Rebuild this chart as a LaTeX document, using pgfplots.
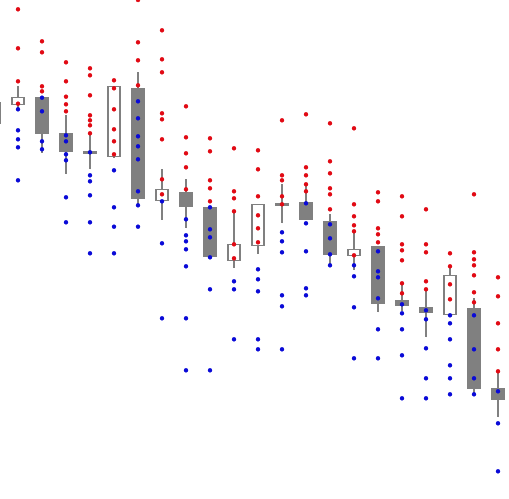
\documentclass[border=0pt]{standalone}
\usepackage{pgfplots}
\pgfplotsset{compat=1.18}
\usepackage{pgfplotstable}
\usepgfplotslibrary{statistics}
\definecolor{boxgray}{RGB}{128,128,128}
\definecolor{dotred}{RGB}{225,10,20}
\definecolor{dotblue}{RGB}{10,10,215}
\pgfplotstableread{
x y
18 9.3
18 48.3
18 81.3
18 103.7
42 41.3
42 52.3
42 86.3
42 91.3
66 62.3
66 81.3
66 96.7
66 104.3
66 111.3
90 68.3
90 75.3
90 95.3
90 115.3
90 120.3
90 125.3
90 133.3
114 80.3
114 88.3
114 109.3
114 129.3
114 141.3
114 154.3
138 0
138 42.3
138 60.3
138 85.3
162 30.3
162 59.3
162 72.3
162 113.3
162 119.3
162 139.3
162 179.3
162 194.3
186 106.3
186 137.3
186 153.3
186 167.3
186 189.3
210 138.3
210 151.3
210 180.3
210 188.3
210 201.3
234 148.3
234 191.3
234 198.3
234 211.3
234 244.3
234 258.3
258 150.3
258 169.3
258 196.3
258 215.3
258 228.3
258 242.3
282 120.3
282 175.3
282 180.3
282 196.3
282 204.3
306 114.3
306 167.3
306 175.3
306 184.3
306 191.3
330 123.3
330 161.3
330 173.3
330 188.3
330 194.3
330 209.3
354 128.3
354 204.3
354 216.3
354 225.3
354 231.3
354 255.3
378 192.3
378 201.3
378 228.3
378 234.3
378 242.3
402 196.3
402 216.3
402 244.3
402 250.3
402 260.3
402 283.3
402 293.3
426 209.3
426 244.3
426 252.3
426 281.3
426 289.3
450 253.3
450 266.3
450 284.3
450 299.3
474 194.3
474 252.3
474 259.3
474 265.3
474 275.3
474 292.3
474 302.3
498 277.3
498 296.3
498 323.3
498 349.3
498 371.3
}\reddots
\pgfplotstableread{
x y
18 109.3
18 130.3
18 139.3
18 147.3
18 180.3
42 97.7
42 111.3
42 141.3
42 149.3
66 135.3
66 141.3
66 154.3
66 160.3
66 197.3
66 222.3
90 152.3
90 175.3
90 181.3
90 195.3
90 222.3
90 253.3
114 170.3
114 207.3
114 226.7
114 253.3
138 101.3
138 118.3
138 136.3
138 146.3
138 159.3
138 191.3
138 205.3
138 226.7
162 201.3
162 243.3
162 318.3
186 219.3
186 235.3
186 241.3
186 249.3
186 266.3
186 318.3
186 370.3
210 207.3
210 229.3
210 237.3
210 257.3
210 289.3
210 370.3
234 281.3
234 289.3
234 339.3
258 269.3
258 279.3
258 291.3
258 339.3
258 349.3
282 232.3
282 241.3
282 252.3
282 295.3
282 306.3
282 349.3
306 203.3
306 223.3
306 251.3
306 288.3
306 295.3
330 224.3
330 238.3
330 254.3
330 265.3
354 265.3
354 276.3
354 307.3
354 358.3
378 251.3
378 271.3
378 277.3
378 298.3
378 329.3
378 358.3
402 304.3
402 313.3
402 329.3
402 355.3
402 398.3
426 310.3
426 319.3
426 348.3
426 378.3
426 398.3
450 315.3
450 323.3
450 339.3
450 365.3
450 378.3
450 394.3
474 315.3
474 349.3
474 378.3
474 394.3
498 391.3
498 423.3
498 471.3
}\bluedots
% #1 position, #2 whisker top, #3 box top, #4 box bottom, #5 whisker bottom, #6 fill
\newcommand{\bx}[6]{\addplot[boxplot/draw direction=y, boxplot prepared={draw position=#1, lower whisker=#2, lower quartile=#3, median=#4, upper quartile=#4, upper whisker=#5, box extend=12, whisker extend=0}, draw=boxgray, line width=1.1pt, fill=#6] coordinates {};}
\begin{document}
\begin{tikzpicture}
\begin{axis}[
  scale only axis, width=509bp, height=499bp,
  xmin=0, xmax=509, ymin=0, ymax=499, y dir=reverse,
  axis lines=none, clip=true,
]
\coordinate (sw) at (rel axis cs:0,0);
\coordinate (ne) at (rel axis cs:1,1);
\bx{-6}{102.7}{102.7}{123.3}{123.3}{white}
\bx{18}{86}{97.3}{104.3}{109}{white}
\bx{42}{97.3}{97.3}{133.7}{152.7}{boxgray}
\bx{66}{115}{134}{151.7}{174}{boxgray}
\bx{90}{133}{151.7}{153.7}{169.3}{boxgray}
\bx{114}{86.3}{86.3}{156.3}{158}{white}
\bx{138}{72.3}{88.3}{198.3}{205.3}{boxgray}
\bx{162}{169.3}{189.3}{200.3}{220.3}{white}
\bx{186}{179.3}{192.3}{206.7}{228.3}{boxgray}
\bx{210}{207.3}{207.3}{256.7}{256.7}{boxgray}
\bx{234}{211.3}{244.3}{260.3}{268.3}{white}
\bx{258}{204.3}{204.3}{245.3}{254.3}{white}
\bx{282}{184.3}{203.3}{205}{223.3}{boxgray}
\bx{306}{184.3}{202.3}{219.3}{219.3}{boxgray}
\bx{330}{214.3}{221.3}{254.3}{265.3}{boxgray}
\bx{354}{231.3}{249.3}{255.3}{270.3}{white}
\bx{378}{246.3}{246.3}{303.3}{312.3}{boxgray}
\bx{402}{283}{300.3}{305.3}{311.3}{boxgray}
\bx{426}{289.3}{307.3}{312.3}{337.3}{boxgray}
\bx{450}{266.3}{275.3}{314.3}{314.3}{white}
\bx{474}{298.3}{308.3}{388.3}{394.3}{boxgray}
\bx{498}{371.3}{388.3}{399.3}{417.3}{boxgray}
\addplot[only marks, mark=*, mark size=2pt, color=dotred] table[x=x,y=y] {\reddots};
\addplot[only marks, mark=*, mark size=2pt, color=dotblue] table[x=x,y=y] {\bluedots};
\end{axis}
\pgfresetboundingbox
\path (sw) rectangle (ne);
\end{tikzpicture}
\end{document}
